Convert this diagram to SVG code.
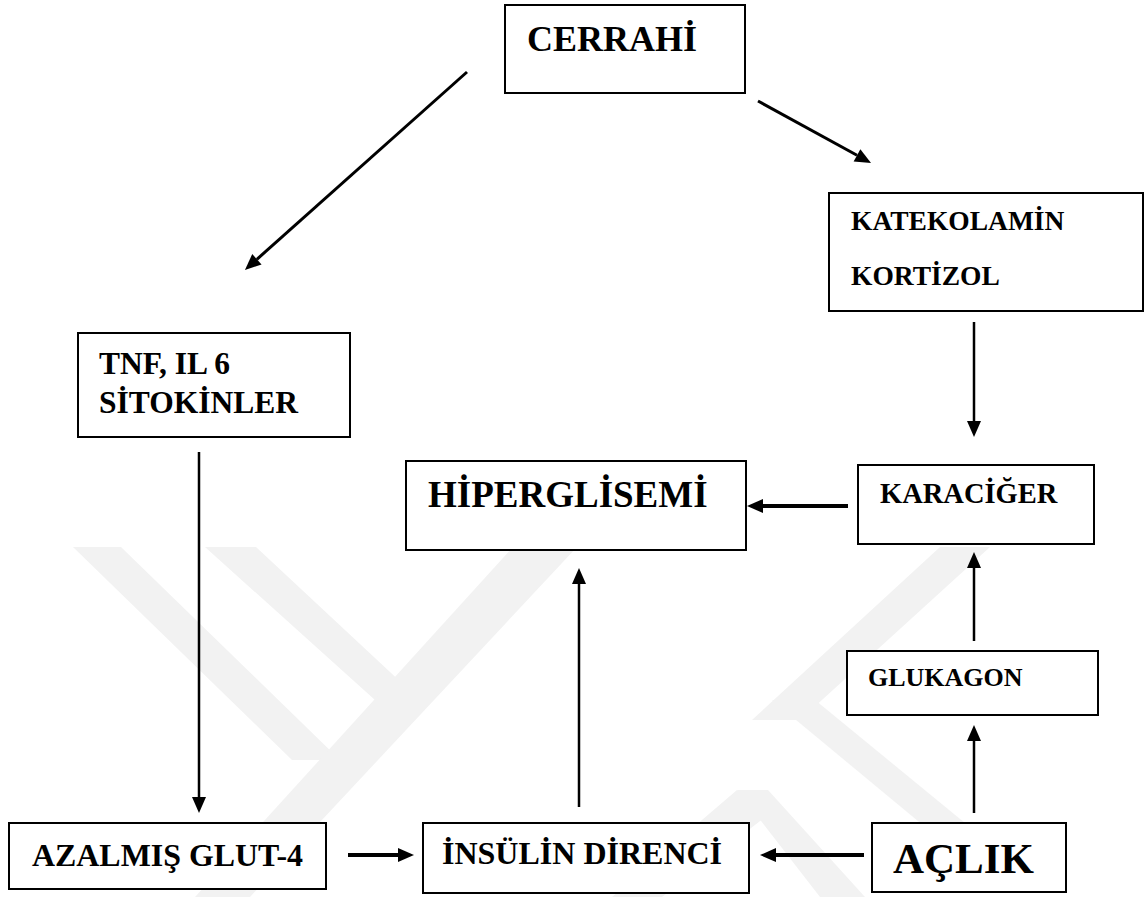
<svg xmlns="http://www.w3.org/2000/svg" width="1147" height="897" viewBox="0 0 1147 897">
<style>
.box{fill:#fff;stroke:#000;stroke-width:2}
text{font-family:'Liberation Serif','Times New Roman',serif;font-weight:bold;fill:#000}
.c{stroke:#000;fill:none}
.wm{fill:#f2f2f2}
</style>
<defs>
<marker id="ah" markerUnits="userSpaceOnUse" markerWidth="16" markerHeight="14" refX="0" refY="7" orient="auto" overflow="visible">
<path d="M0,0 L16,7 L0,14 Z" fill="#000"/>
</marker>
</defs>
<rect width="1147" height="897" fill="#fff"/>
<g id="watermark">
<polygon class="wm" points="73,547 121,547 340,760 292,760"/>
<polygon class="wm" points="205,547 256,547 420,700 375,700"/>
<polygon class="wm" points="513,547 577,547 250,897 195,897"/>
<polygon class="wm" points="940,547 990,547 800,720 752,720"/>
<polygon class="wm" points="737,790 768,815 662,897 612,897"/>
<polygon class="wm" points="737,790 768,790 865,897 820,897"/>
<polygon class="wm" points="772,700 815,700 1010,860 965,860"/>
</g>
<g id="connectors">
<line class="c" x1="467" y1="72" x2="256.9" y2="259.3" stroke-width="3" marker-end="url(#ah)"/>
<line class="c" x1="758" y1="101" x2="857" y2="155.3" stroke-width="3" marker-end="url(#ah)"/>
<line class="c" x1="974" y1="322" x2="974" y2="421" stroke-width="2.5" marker-end="url(#ah)"/>
<line class="c" x1="199" y1="452" x2="199" y2="797" stroke-width="2.5" marker-end="url(#ah)"/>
<line class="c" x1="579" y1="807" x2="579" y2="584" stroke-width="2.5" marker-end="url(#ah)"/>
<line class="c" x1="848" y1="506" x2="763" y2="506" stroke-width="4" marker-end="url(#ah)"/>
<line class="c" x1="974" y1="641" x2="974" y2="568" stroke-width="2.5" marker-end="url(#ah)"/>
<line class="c" x1="974" y1="813" x2="974" y2="741" stroke-width="2.5" marker-end="url(#ah)"/>
<line class="c" x1="864" y1="855" x2="776" y2="855" stroke-width="4" marker-end="url(#ah)"/>
<line class="c" x1="348" y1="855" x2="398" y2="855" stroke-width="4" marker-end="url(#ah)"/>
</g>
<g id="cerrahi">
<rect class="box" x="505" y="5" width="240" height="88"/>
<text x="527" y="51" font-size="36">CERRAHİ</text>
</g>
<g id="katekolamin">
<rect class="box" x="829" y="193" width="314" height="118"/>
<text x="851" y="230" font-size="27.5">KATEKOLAMİN</text>
<text x="851" y="285" font-size="27.5">KORTİZOL</text>
</g>
<g id="tnf">
<rect class="box" x="78" y="333" width="272" height="104"/>
<text x="99" y="374" font-size="31.5">TNF, IL 6</text>
<text x="99" y="413" font-size="31.5">SİTOKİNLER</text>
</g>
<g id="hiperglisemi">
<rect class="box" x="406" y="461" width="340" height="89"/>
<text x="428" y="507" font-size="37">HİPERGLİSEMİ</text>
</g>
<g id="karaciger">
<rect class="box" x="858" y="465" width="236" height="79"/>
<text x="880" y="503" font-size="28.5">KARACİĞER</text>
</g>
<g id="glukagon">
<rect class="box" x="847" y="651" width="251" height="64"/>
<text x="868" y="686" font-size="26">GLUKAGON</text>
</g>
<g id="azalmis">
<rect class="box" x="9" y="823" width="317" height="66"/>
<text x="32" y="866" font-size="32" textLength="271" lengthAdjust="spacingAndGlyphs">AZALMIŞ GLUT-4</text>
</g>
<g id="insulin">
<rect class="box" x="423" y="823" width="326" height="70"/>
<text x="442" y="864" font-size="32">İNSÜLİN DİRENCİ</text>
</g>
<g id="aclik">
<rect class="box" x="872" y="823" width="194" height="69"/>
<text x="893" y="873" font-size="43">AÇLIK</text>
</g>
</svg>
